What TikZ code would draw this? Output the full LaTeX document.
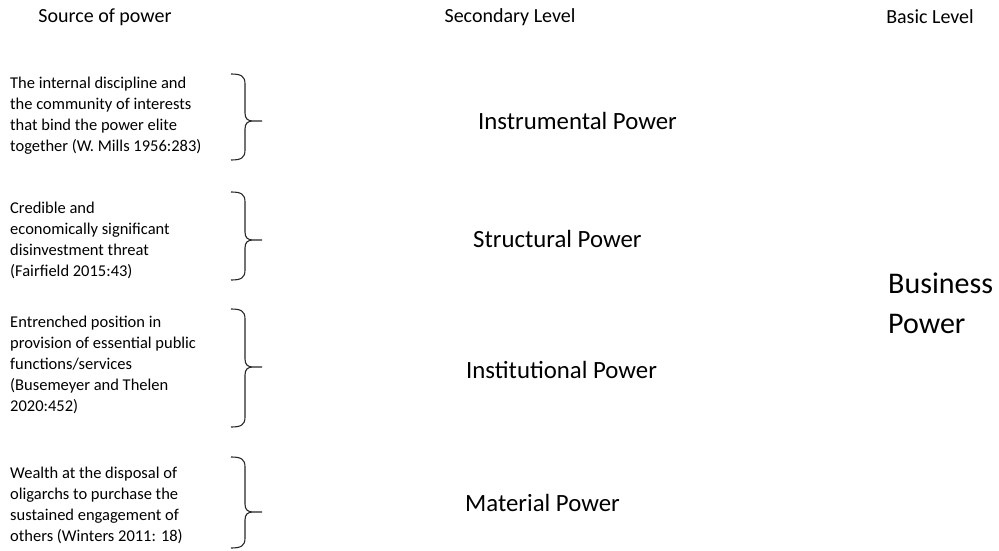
\documentclass[tikz,border=0pt]{standalone}
\usepackage{fontspec}
\setmainfont{Carlito}
\tikzset{
  head/.style={font=\fontsize{20}{24}\selectfont, inner sep=0},
  src/.style={font=\fontsize{16.5}{21}\selectfont, align=left, anchor=west, inner sep=0},
  level/.style={font=\fontsize{24.8}{30}\selectfont, anchor=west, inner sep=0},
  basic/.style={font=\fontsize{30}{40}\selectfont, align=left, anchor=west, inner sep=0},
  bracestroke/.style={draw=black!85, line width=1.1pt},
}
% right curly brace: #1 top, #2 tip, #3 bottom (y grows downwards)
\newcommand\srcbrace[3]{%
  \draw[bracestroke] (231,#1) .. controls (241,#1) and (245,#1+2) .. (245,#1+10)
    -- (245,#2-8) .. controls (245,#2-2) and (248,#2) .. (253,#2) -- (262,#2)
    (253,#2) .. controls (248,#2) and (245,#2+2) .. (245,#2+8)
    -- (245,#3-10) .. controls (245,#3-2) and (241,#3) .. (231,#3);}
\begin{document}
\begin{tikzpicture}[x=1pt, y=-1pt]
\useasboundingbox (0,0) rectangle (999,551);

% column headings
\node[head] (hsrc) at (105,17) {Source of power};
\node[head] (hsec) at (510,17) {Secondary Level};
\node[head] (hbas) at (930,17) {Basic Level};

% sources of power
\node[src] (s1) at (10,116) {The internal discipline and\\the community of interests\\that bind the power elite\\together (W. Mills 1956:283)};
\node[src] (s2) at (10,240) {Credible and\\economically significant\\disinvestment threat\\(Fairfield 2015:43)};
\node[src] (s3) at (10,365) {Entrenched position in\\provision of essential public\\functions/services\\(Busemeyer and Thelen\\2020:452)};
\node[src] (s4) at (10,505) {Wealth at the disposal of\\oligarchs to purchase the\\sustained engagement of\\others (Winters 2011: 18)};

% braces
\srcbrace{74}{121}{160}
\srcbrace{192}{240}{280}
\srcbrace{309}{367}{427}
\srcbrace{457}{512}{548}

% secondary level
\node[level] (l1) at (478,121) {Instrumental Power};
\node[level] (l2) at (473,239) {Structural Power};
\node[level] (l3) at (466,370) {Institutional Power};
\node[level] (l4) at (465,503) {Material Power};

% basic level
\node[basic] (bp) at (888,303) {Business\\Power};
\end{tikzpicture}
\end{document}
